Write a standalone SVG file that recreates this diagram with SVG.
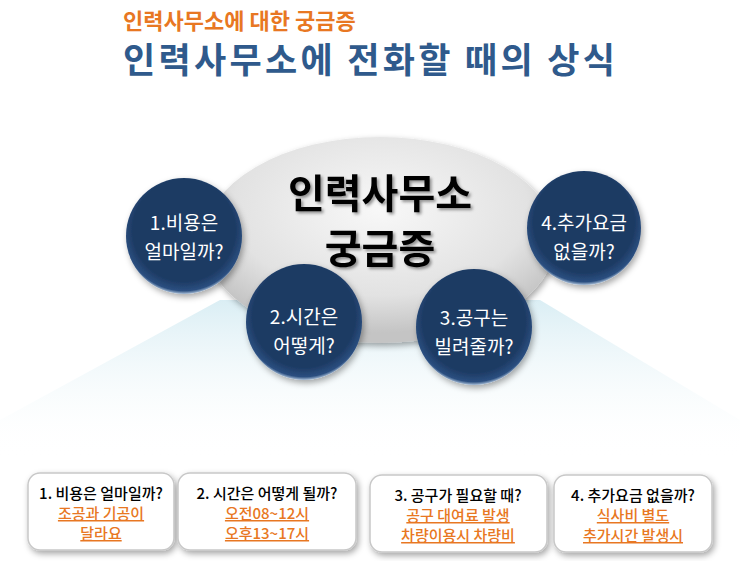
<svg xmlns="http://www.w3.org/2000/svg" width="740" height="561" viewBox="0 0 740 561">
<defs>
<radialGradient id="eg" cx="50%" cy="35%" r="60%"><stop offset="0" stop-color="#f8f8f8"/><stop offset="0.7" stop-color="#e2e2e2"/><stop offset="1" stop-color="#c4c4c4"/></radialGradient>
<radialGradient id="cg" cx="50%" cy="45%" r="55%"><stop offset="0.8" stop-color="#1d3a63"/><stop offset="0.95" stop-color="#2b4f80"/><stop offset="1" stop-color="#a9bfd8"/></radialGradient>
<linearGradient id="glow" x1="0" y1="0" x2="0" y2="1"><stop offset="0" stop-color="#d6ecf3" stop-opacity="0.9"/><stop offset="1" stop-color="#ffffff" stop-opacity="0"/></linearGradient>
<filter id="sh" x="-20%" y="-20%" width="140%" height="140%"><feDropShadow dx="2" dy="3" stdDeviation="3" flood-color="#000" flood-opacity="0.35"/></filter>
<filter id="ts"><feDropShadow dx="2" dy="2" stdDeviation="1.5" flood-color="#000" flood-opacity="0.4"/></filter>
</defs>
<style>
.ct{font-family:"Noto Sans CJK KR",sans-serif;font-size:19px;fill:#fff;text-anchor:middle}
.bt{font-family:"Noto Sans CJK KR",sans-serif;font-size:15px;font-weight:500;fill:#000;text-anchor:middle}
.bo{font-family:"Noto Sans CJK KR",sans-serif;font-size:15px;font-weight:500;fill:#e87722;text-anchor:middle;text-decoration:underline}
.box{fill:#fff;stroke:#c8c8c8;stroke-width:1.5;filter:url(#sh)}
</style>
<rect width="740" height="561" fill="#fff"/>
<polygon points="220,300 540,300 740,420 740,460 0,460 0,420" fill="url(#glow)"/>
<text x="123" y="29" font-family="Noto Sans CJK KR,sans-serif" font-size="22" font-weight="bold" fill="#e87722">인력사무소에 대한 궁금증</text>
<text x="123" y="73" font-family="Noto Sans CJK KR,sans-serif" font-size="35" font-weight="bold" fill="#2f5a8c" textLength="492" lengthAdjust="spacing">인력사무소에 전화할 때의 상식</text>
<g id="center"><ellipse cx="380" cy="240" rx="176" ry="103" fill="url(#eg)" filter="url(#sh)"/>
<text x="380" y="208" font-family="Noto Sans CJK KR,sans-serif" font-size="40" font-weight="bold" fill="#000" text-anchor="middle" filter="url(#ts)">인력사무소</text>
<text x="380" y="263" font-family="Noto Sans CJK KR,sans-serif" font-size="40" font-weight="bold" fill="#000" text-anchor="middle" filter="url(#ts)">궁금증</text></g>
<g id="c1"><circle cx="184" cy="236" r="58" fill="url(#cg)" filter="url(#sh)"/><text class="ct" x="184" y="230">1.비용은</text><text class="ct" x="184" y="259">얼마일까?</text></g>
<g id="c2"><circle cx="304" cy="322" r="58" fill="url(#cg)" filter="url(#sh)"/><text class="ct" x="304" y="324">2.시간은</text><text class="ct" x="304" y="353">어떻게?</text></g>
<g id="c3"><circle cx="474" cy="327" r="58" fill="url(#cg)" filter="url(#sh)"/><text class="ct" x="474" y="325">3.공구는</text><text class="ct" x="474" y="354">빌려줄까?</text></g>
<g id="c4"><circle cx="584" cy="228" r="57" fill="url(#cg)" filter="url(#sh)"/><text class="ct" x="584" y="230">4.추가요금</text><text class="ct" x="584" y="259">없을까?</text></g>
<g id="b1"><rect class="box" x="28" y="473" width="146" height="77" rx="12"/><text class="bt" x="101" y="499">1. 비용은 얼마일까?</text><text class="bo" x="101" y="519">조공과 기공이</text><text class="bo" x="101" y="539">달라요</text></g>
<g id="b2"><rect class="box" x="178" y="473" width="178" height="77" rx="12"/><text class="bt" x="267" y="499" font-size="17">2. 시간은 어떻게 될까?</text><text class="bo" x="267" y="519">오전08~12시</text><text class="bo" x="267" y="539">오후13~17시</text></g>
<g id="b3"><rect class="box" x="370" y="475" width="177" height="77" rx="12"/><text class="bt" x="458" y="501">3. 공구가 필요할 때?</text><text class="bo" x="458" y="521">공구 대여료 발생</text><text class="bo" x="458" y="541">차량이용시 차량비</text></g>
<g id="b4"><rect class="box" x="554" y="475" width="158" height="77" rx="12"/><text class="bt" x="633" y="501">4. 추가요금 없을까?</text><text class="bo" x="633" y="521">식사비 별도</text><text class="bo" x="633" y="541">추가시간 발생시</text></g>
<g id="connectors"/>
</svg>
